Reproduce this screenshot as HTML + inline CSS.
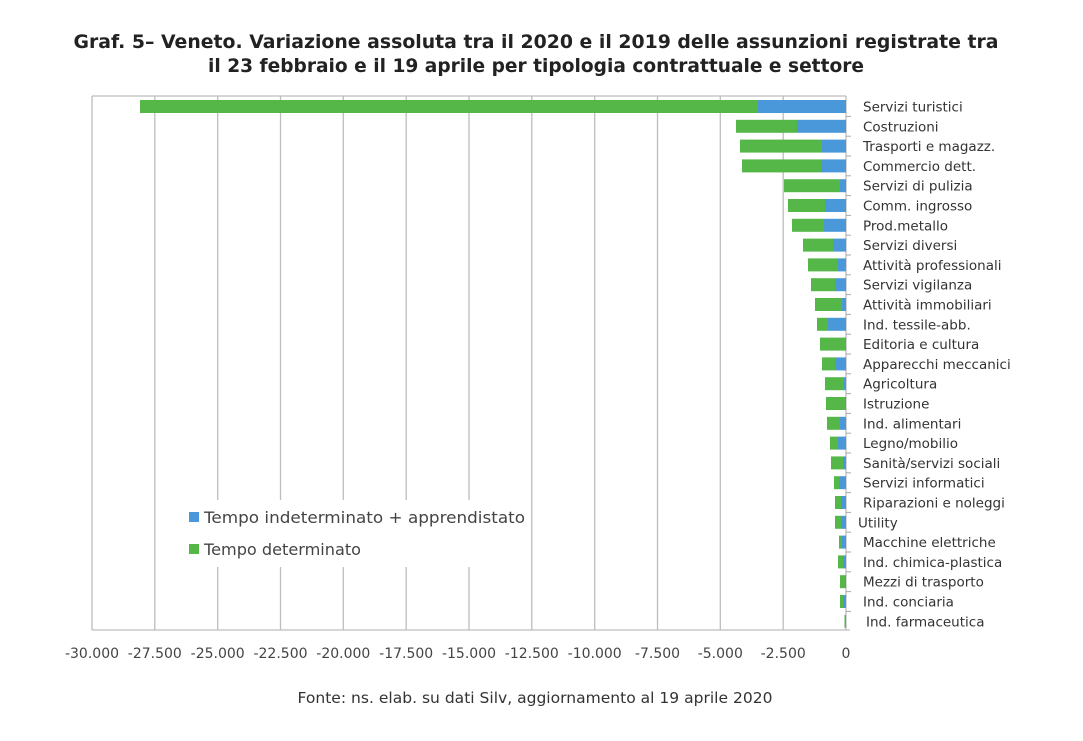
<!DOCTYPE html>
<html><head><meta charset="utf-8"><style>
body{margin:0;background:#fff;}
svg{display:block;font-family:"DejaVu Sans","Liberation Sans",sans-serif;}
</style></head><body>
<svg width="1083" height="741" viewBox="0 0 1083 741" xmlns="http://www.w3.org/2000/svg">
<rect width="1083" height="741" fill="#fff"/>
<g font-weight="bold" font-size="19" fill="#222" text-anchor="middle">
<text x="536" y="48" textLength="925" lengthAdjust="spacingAndGlyphs">Graf. 5– Veneto. Variazione assoluta tra il 2020 e il 2019 delle assunzioni registrate tra</text>
<text x="536" y="72" textLength="656" lengthAdjust="spacingAndGlyphs">il 23 febbraio e il 19 aprile per tipologia contrattuale e settore</text>
</g>
<g stroke="#bdbdbd" stroke-width="1.3">
<line x1="92" y1="96" x2="846" y2="96"/>
<line x1="92" y1="96" x2="92" y2="630"/>
<line x1="154.8" y1="96" x2="154.8" y2="630"/>
<line x1="217.7" y1="96" x2="217.7" y2="630"/>
<line x1="280.5" y1="96" x2="280.5" y2="630"/>
<line x1="343.3" y1="96" x2="343.3" y2="630"/>
<line x1="406.2" y1="96" x2="406.2" y2="630"/>
<line x1="469" y1="96" x2="469" y2="630"/>
<line x1="531.8" y1="96" x2="531.8" y2="630"/>
<line x1="594.7" y1="96" x2="594.7" y2="630"/>
<line x1="657.5" y1="96" x2="657.5" y2="630"/>
<line x1="720.3" y1="96" x2="720.3" y2="630"/>
<line x1="783.2" y1="96" x2="783.2" y2="630"/>
<line x1="92" y1="630" x2="850" y2="630"/>
<line x1="846" y1="96" x2="846" y2="630"/>
</g>
<rect x="176" y="500" width="350" height="67" fill="#fff"/>
<g stroke="#aaa" stroke-width="1">
<line x1="846" y1="116.4" x2="851" y2="116.4"/><line x1="846" y1="136.2" x2="851" y2="136.2"/><line x1="846" y1="156" x2="851" y2="156"/><line x1="846" y1="175.8" x2="851" y2="175.8"/><line x1="846" y1="195.6" x2="851" y2="195.6"/><line x1="846" y1="215.4" x2="851" y2="215.4"/><line x1="846" y1="235.2" x2="851" y2="235.2"/><line x1="846" y1="255" x2="851" y2="255"/><line x1="846" y1="274.8" x2="851" y2="274.8"/><line x1="846" y1="294.6" x2="851" y2="294.6"/><line x1="846" y1="314.4" x2="851" y2="314.4"/><line x1="846" y1="334.2" x2="851" y2="334.2"/><line x1="846" y1="354" x2="851" y2="354"/><line x1="846" y1="373.8" x2="851" y2="373.8"/><line x1="846" y1="393.6" x2="851" y2="393.6"/><line x1="846" y1="413.4" x2="851" y2="413.4"/><line x1="846" y1="433.2" x2="851" y2="433.2"/><line x1="846" y1="453" x2="851" y2="453"/><line x1="846" y1="472.8" x2="851" y2="472.8"/><line x1="846" y1="492.6" x2="851" y2="492.6"/><line x1="846" y1="512.4" x2="851" y2="512.4"/><line x1="846" y1="532.2" x2="851" y2="532.2"/><line x1="846" y1="552" x2="851" y2="552"/><line x1="846" y1="571.8" x2="851" y2="571.8"/><line x1="846" y1="591.6" x2="851" y2="591.6"/><line x1="846" y1="611.4" x2="851" y2="611.4"/>
</g>
<g fill="#55b748">
<rect x="140" y="100" width="618" height="13"/>
<rect x="736" y="119.8" width="61" height="13"/>
<rect x="740" y="139.6" width="82" height="13"/>
<rect x="742" y="159.4" width="79" height="13"/>
<rect x="784" y="179.2" width="56" height="13"/>
<rect x="788" y="199" width="37" height="13"/>
<rect x="792" y="218.8" width="32" height="13"/>
<rect x="803" y="238.6" width="30" height="13"/>
<rect x="808" y="258.4" width="30" height="13"/>
<rect x="811" y="278.2" width="24" height="13"/>
<rect x="815" y="298" width="27" height="13"/>
<rect x="817" y="317.8" width="11" height="13"/>
<rect x="820" y="337.6" width="25" height="13"/>
<rect x="822" y="357.4" width="13" height="13"/>
<rect x="825" y="377.2" width="19" height="13"/>
<rect x="826" y="397" width="19" height="13"/>
<rect x="827" y="416.8" width="13" height="13"/>
<rect x="830" y="436.6" width="8" height="13"/>
<rect x="831" y="456.4" width="12" height="13"/>
<rect x="834" y="476.2" width="5" height="13"/>
<rect x="835" y="496" width="6" height="13"/>
<rect x="835" y="515.8" width="6" height="13"/>
<rect x="839" y="535.6" width="3" height="13"/>
<rect x="838" y="555.4" width="5" height="13"/>
<rect x="840" y="575.2" width="5" height="13"/>
<rect x="840" y="595" width="3" height="13"/>
<rect x="844.5" y="614.8" width="1.5" height="13"/>
</g>
<g fill="#4a98d9">
<rect x="758" y="100" width="88" height="13"/>
<rect x="797" y="119.8" width="49" height="13"/>
<rect x="822" y="139.6" width="24" height="13"/>
<rect x="821" y="159.4" width="25" height="13"/>
<rect x="840" y="179.2" width="6" height="13"/>
<rect x="825" y="199" width="21" height="13"/>
<rect x="824" y="218.8" width="22" height="13"/>
<rect x="833" y="238.6" width="13" height="13"/>
<rect x="838" y="258.4" width="8" height="13"/>
<rect x="835" y="278.2" width="11" height="13"/>
<rect x="842" y="298" width="4" height="13"/>
<rect x="828" y="317.8" width="18" height="13"/>
<rect x="845" y="337.6" width="1" height="13"/>
<rect x="835" y="357.4" width="11" height="13"/>
<rect x="844" y="377.2" width="2" height="13"/>
<rect x="845" y="397" width="1" height="13"/>
<rect x="840" y="416.8" width="6" height="13"/>
<rect x="838" y="436.6" width="8" height="13"/>
<rect x="843" y="456.4" width="3" height="13"/>
<rect x="839" y="476.2" width="7" height="13"/>
<rect x="841" y="496" width="5" height="13"/>
<rect x="841" y="515.8" width="5" height="13"/>
<rect x="842" y="535.6" width="4" height="13"/>
<rect x="843" y="555.4" width="3" height="13"/>
<rect x="845" y="575.2" width="1" height="13"/>
<rect x="843" y="595" width="3" height="13"/>
</g>
<g font-size="13.5" fill="#333">
<text x="863" y="111.5">Servizi turistici</text>
<text x="863" y="131.3">Costruzioni</text>
<text x="863" y="151.1">Trasporti e magazz.</text>
<text x="863" y="170.9">Commercio dett.</text>
<text x="863" y="190.7">Servizi di pulizia</text>
<text x="863" y="210.5">Comm. ingrosso</text>
<text x="863" y="230.3">Prod.metallo</text>
<text x="863" y="250.1">Servizi diversi</text>
<text x="863" y="269.9">Attività professionali</text>
<text x="863" y="289.7">Servizi vigilanza</text>
<text x="863" y="309.5">Attività immobiliari</text>
<text x="863" y="329.3">Ind. tessile-abb.</text>
<text x="863" y="349.1">Editoria e cultura</text>
<text x="863" y="368.9">Apparecchi meccanici</text>
<text x="863" y="388.7">Agricoltura</text>
<text x="863" y="408.5">Istruzione</text>
<text x="863" y="428.3">Ind. alimentari</text>
<text x="863" y="448.1">Legno/mobilio</text>
<text x="863" y="467.9">Sanità/servizi sociali</text>
<text x="863" y="487.7">Servizi informatici</text>
<text x="863" y="507.5">Riparazioni e noleggi</text>
<text x="858" y="527.3">Utility</text>
<text x="863" y="547.1">Macchine elettriche</text>
<text x="863" y="566.9">Ind. chimica-plastica</text>
<text x="863" y="586.7">Mezzi di trasporto</text>
<text x="863" y="606.5">Ind. conciaria</text>
<text x="866" y="626.3">Ind. farmaceutica</text>
</g>
<rect x="189" y="512" width="10" height="10" fill="#4a98d9"/>
<rect x="189" y="544" width="10" height="10" fill="#55b748"/>
<g font-size="16" fill="#444">
<text x="204" y="523" textLength="321" lengthAdjust="spacingAndGlyphs">Tempo indeterminato + apprendistato</text>
<text x="204" y="555" textLength="157" lengthAdjust="spacingAndGlyphs">Tempo determinato</text>
</g>
<g font-size="14" fill="#444" text-anchor="middle">
<text x="92" y="658">-30.000</text>
<text x="154.8" y="658">-27.500</text>
<text x="217.7" y="658">-25.000</text>
<text x="280.5" y="658">-22.500</text>
<text x="343.3" y="658">-20.000</text>
<text x="406.2" y="658">-17.500</text>
<text x="469" y="658">-15.000</text>
<text x="531.8" y="658">-12.500</text>
<text x="594.7" y="658">-10.000</text>
<text x="657.5" y="658">-7.500</text>
<text x="720.3" y="658">-5.000</text>
<text x="783.2" y="658">-2.500</text>
<text x="846" y="658">0</text>
</g>
<text x="535" y="703" font-size="15" fill="#333" text-anchor="middle" textLength="475" lengthAdjust="spacingAndGlyphs">Fonte: ns. elab. su dati Silv, aggiornamento al 19 aprile 2020</text>
</svg>
</body></html>
